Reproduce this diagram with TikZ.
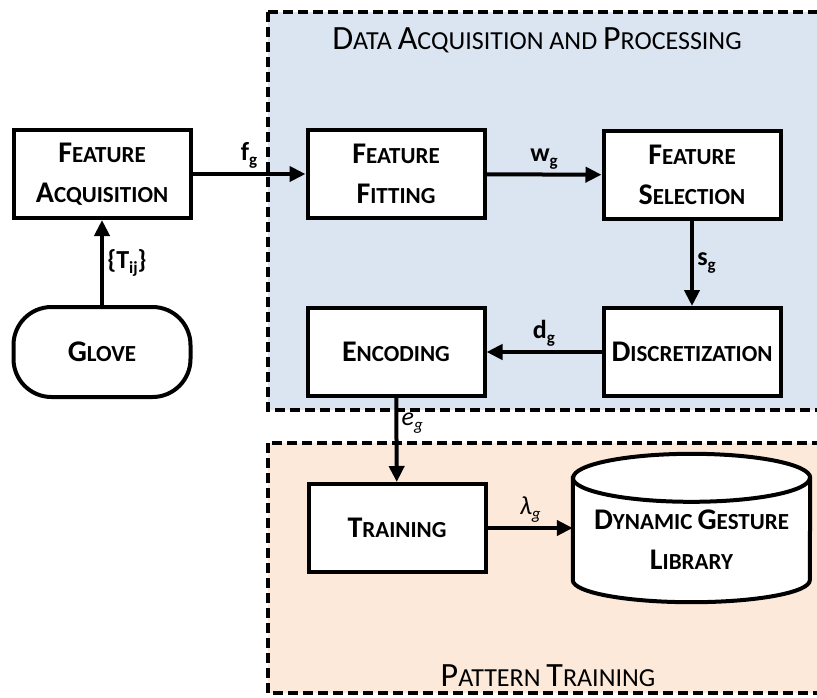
\documentclass[tikz,border=0pt]{standalone}
\usepackage{fontspec}
\setmainfont{Carlito}
\usetikzlibrary{arrows.meta,calc}
\definecolor{procblue}{RGB}{219,228,241}
\definecolor{trainpink}{RGB}{253,233,217}
\tikzstyle{block}=[rectangle,draw,fill=white,line width=4pt,minimum width=177pt,minimum height=88pt,inner sep=0pt,align=center,font=\bfseries\fontsize{23}{40}\selectfont]
\tikzstyle{flow} = [draw,line width=4pt,-{Triangle[length=16pt,width=15pt]}]
\tikzstyle{region} = [draw,line width=4pt,dash pattern=on 10pt off 5pt]
\tikzstyle{weight} = [font=\bfseries\fontsize{26}{26}\selectfont]
\tikzstyle{heading} = [font=\fontsize{26}{30}\selectfont]
\newcommand{\bsc}[2]{{\fontsize{30}{40}\selectfont #1}{\fontsize{23}{40}\selectfont #2}}
\newcommand{\rsc}[2]{{\fontsize{34}{34}\selectfont #1}{\fontsize{26}{34}\selectfont #2}}
\newcommand{\sub}[1]{\raisebox{-5pt}{\fontsize{17}{17}\selectfont #1}}

\begin{document}
\begin{tikzpicture}[x=1pt,y=1pt]
    \useasboundingbox (0,0) rectangle (817,-697);
    \clip (0,0) rectangle (817,-697);
    % the two dashed regions
    \path[region,fill=procblue] (268,-12) rectangle (835,-410);
    \path[region,fill=trainpink] (268,-443) rectangle (835,-693);
    \node[heading] (ttlproc) at (537,-40) {\rsc{D}{ATA} \rsc{A}{CQUISITION AND} \rsc{P}{ROCESSING}};
    \node[heading] (ttltrain) at (548,-676) {\rsc{P}{ATTERN} \rsc{T}{RAINING}};

    % the blocks
    \foreach \pos/\name/\text in {{(102,-174)/facq/\bsc{F}{EATURE}\\\bsc{A}{CQUISITION}},
    {(396,-174)/fit/\bsc{F}{EATURE}\\\bsc{F}{ITTING}},
    {(692,-175)/sel/\bsc{F}{EATURE}\\\bsc{S}{ELECTION}},
    {(692,-352)/disc/\bsc{D}{ISCRETIZATION}},
    {(396,-352)/enc/\bsc{E}{NCODING}},
    {(397,-528)/train/\bsc{T}{RAINING}}}
        \node[block] (\name) at \pos {\text};
    \node[block,rounded corners=38pt,minimum height=90pt] (glove) at (102,-352) {\bsc{G}{LOVE}};

    % gesture library cylinder
    \node[minimum width=237pt,minimum height=148pt,inner sep=0pt] (lib) at (691.5,-528) {};
    \draw[line width=4pt,fill=white] ($(lib.north west)+(0,-24)$) -- ($(lib.south west)+(0,22)$)
        arc (180:360:118.5 and 22) -- ($(lib.north east)+(0,-24)$) arc (0:180:118.5 and 24) -- cycle;
    \draw[line width=4pt] ($(lib.north west)+(0,-24)$) arc (180:360:118.5 and 24);
    \node[block,draw=none,fill=none,minimum width=0pt,minimum height=0pt] (libtext) at (691.5,-540) {\bsc{D}{YNAMIC} \bsc{G}{ESTURE}\\\bsc{L}{IBRARY}};

    % connectors
    \path[flow] (glove) -- node[weight,right] {\{T\sub{ij}\}} (facq);
    \path[flow] (facq) -- node[weight,above] {f\sub{g}} (fit);
    \path[flow] (fit) -- node[weight,above] {w\sub{g}} (sel);
    \path[flow] (sel) -- node[weight,right] {s\sub{g}} (disc);
    \path[flow] (disc) -- node[weight,above] {d\sub{g}} (enc);
    \path[flow] (enc) -- node[weight,pos=0.3,right,font=\itshape\fontsize{26}{26}\selectfont] {e\sub{g}} (train);
    \path[flow] (train) -- node[weight,above,font=\itshape\fontsize{26}{26}\selectfont] {λ\sub{g}} (lib.west);
\end{tikzpicture}
\end{document}
